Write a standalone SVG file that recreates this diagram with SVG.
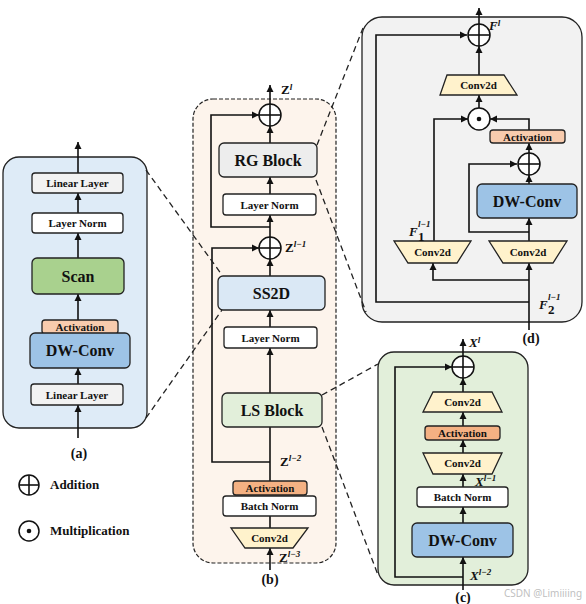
<svg xmlns="http://www.w3.org/2000/svg" width="586" height="604" viewBox="0 0 586 604">
<defs>
<marker id="ah" markerUnits="userSpaceOnUse" markerWidth="8" markerHeight="8" refX="7" refY="4" orient="auto">
<path d="M0,0.5 L7,4 L0,7.5 z" fill="#111"/>
</marker>
<style>
.t{font-family:"Liberation Serif","Times New Roman",serif;font-weight:bold;fill:#111;text-anchor:middle}
.s{font-size:11px}
.m{font-size:16px}
.lbl{font-family:"Liberation Serif","Times New Roman",serif;font-weight:bold;fill:#111;font-size:13px}
.sup{font-size:9px;font-style:italic}
.box{stroke:#222;stroke-width:1.3}
.ln{fill:none;stroke:#111;stroke-width:1.6}
.ar{fill:none;stroke:#111;stroke-width:1.6;marker-end:url(#ah)}
.dash{fill:none;stroke:#222;stroke-width:1.3;stroke-dasharray:6,4}
.op{fill:#fff;stroke:#111;stroke-width:1.5}
</style>
</defs>

<!-- Panels -->
<g id="panel-a">
<rect x="3" y="157" width="144" height="271" rx="16" fill="#deebf7" stroke="#222" stroke-width="1.3"/>
</g>
<g id="panel-b">
<rect x="193" y="99" width="143" height="464" rx="20" fill="#fdf4ec" stroke="#222" stroke-width="1.2" stroke-dasharray="4,2"/>
</g>
<g id="panel-d">
<rect x="362" y="17" width="220" height="305" rx="20" fill="#f2f2f2" stroke="#222" stroke-width="1.3"/>
</g>
<g id="panel-c">
<rect x="378" y="352" width="150" height="233" rx="16" fill="#e2efda" stroke="#222" stroke-width="1.3"/>
</g>

<!-- Connectors -->
<g id="connectors">
<!-- panel a -->
<line class="ar" x1="78" y1="438" x2="78" y2="405"/>
<line class="ar" x1="78" y1="384" x2="78" y2="368"/>
<line class="ar" x1="78" y1="320" x2="78" y2="294"/>
<line class="ar" x1="78" y1="258" x2="78" y2="233"/>
<line class="ar" x1="78" y1="213" x2="78" y2="193"/>
<line class="ar" x1="78" y1="173" x2="78" y2="142"/>
<!-- panel b -->
<line class="ar" x1="270" y1="570" x2="270" y2="548"/>
<line class="ln" x1="270" y1="528" x2="270" y2="516"/>
<line class="ln" x1="270" y1="481" x2="270" y2="427"/>
<line class="ar" x1="270" y1="393" x2="270" y2="348"/>
<line class="ar" x1="270" y1="327" x2="270" y2="310"/>
<line class="ar" x1="270" y1="276" x2="270" y2="259"/>
<line class="ar" x1="270" y1="237" x2="270" y2="215"/>
<line class="ar" x1="270" y1="194" x2="270" y2="177"/>
<line class="ar" x1="270" y1="143" x2="270" y2="126"/>
<line class="ar" x1="270" y1="104" x2="270" y2="85"/>
<polyline class="ar" points="270,462 212,462 212,248 259,248"/>
<polyline class="ar" points="270,227 211,227 211,115 259,115"/>
<!-- panel d -->
<line class="ar" x1="529" y1="330" x2="529" y2="263"/>
<polyline class="ar" points="529,280 433,280 433,263"/>
<polyline class="ar" points="529,302 376,302 376,35 467,35"/>
<line class="ar" x1="529" y1="241" x2="529" y2="218"/>
<polyline class="ar" points="529,232 469,232 469,164 517,164"/>
<line class="ar" x1="529" y1="184" x2="529" y2="175"/>
<line class="ar" x1="529" y1="153" x2="529" y2="143"/>
<polyline class="ar" points="529,130 529,119 490,119"/>
<polyline class="ar" points="434,241 434,119 468,119"/>
<line class="ar" x1="479" y1="108" x2="479" y2="95"/>
<line class="ar" x1="479" y1="75" x2="479" y2="46"/>
<line class="ar" x1="479" y1="24" x2="479" y2="8"/>
<!-- panel c -->
<line class="ar" x1="463" y1="590" x2="463" y2="557"/>
<polyline class="ar" points="463,577 395,577 395,367 452,367"/>
<line class="ar" x1="463" y1="523" x2="463" y2="507"/>
<line class="ar" x1="463" y1="487" x2="463" y2="474"/>
<line class="ar" x1="463" y1="453" x2="463" y2="440"/>
<line class="ar" x1="463" y1="426" x2="463" y2="412"/>
<line class="ar" x1="463" y1="392" x2="463" y2="378"/>
<line class="ar" x1="463" y1="356" x2="463" y2="339"/>
<!-- zoom dashed lines -->
<line class="dash" x1="146" y1="170" x2="222" y2="275"/>
<line class="dash" x1="146" y1="418" x2="222" y2="310"/>
<line class="dash" x1="317" y1="145" x2="363" y2="28"/>
<line class="dash" x1="316" y1="180" x2="366" y2="312"/>
<line class="dash" x1="322" y1="395" x2="378" y2="364"/>
<line class="dash" x1="322" y1="427" x2="378" y2="575"/>
</g>

<!-- Panel a nodes -->
<g id="a-linear-top"><rect class="box" x="32" y="173" width="91" height="20" rx="3" fill="#f2f2f2"/><text class="t s" x="77.5" y="187">Linear Layer</text></g>
<g id="a-layernorm"><rect class="box" x="32" y="213" width="91" height="20" rx="3" fill="#fff"/><text class="t s" x="77.5" y="227">Layer Norm</text></g>
<g id="a-scan"><rect class="box" x="32" y="258" width="92" height="36" rx="5" fill="#a9d18e"/><text class="t m" x="78" y="282">Scan</text></g>
<g id="a-activation"><rect class="box" x="42" y="320" width="76" height="14" rx="3" fill="#f8cbad"/><text class="t s" x="80" y="331">Activation</text></g>
<g id="a-dwconv"><rect class="box" x="30" y="333" width="100" height="35" rx="5" fill="#9dc3e6"/><text class="t m" x="80" y="356">DW-Conv</text></g>
<g id="a-linear-bottom"><rect class="box" x="31" y="384" width="92" height="21" rx="3" fill="#f2f2f2"/><text class="t s" x="77" y="398.5">Linear Layer</text></g>
<g id="a-label"><text class="t" x="79" y="458" font-size="14">(a)</text></g>

<!-- Legend -->
<g id="legend-add"><circle class="op" cx="29" cy="485" r="10"/><line class="ln" x1="19" y1="485" x2="39" y2="485" stroke-width="1.3"/><line class="ln" x1="29" y1="475" x2="29" y2="495" stroke-width="1.3"/><text class="lbl" x="50" y="489" font-size="12">Addition</text></g>
<g id="legend-mul"><circle class="op" cx="29" cy="531" r="10"/><circle cx="29" cy="531" r="2.3" fill="#111"/><text class="lbl" x="50" y="535" font-size="12">Multiplication</text></g>

<!-- Panel b nodes -->
<g id="b-add-top"><circle class="op" cx="270" cy="115" r="11"/><line class="ln" x1="259" y1="115" x2="281" y2="115" stroke-width="1.3"/><line class="ln" x1="270" y1="104" x2="270" y2="126" stroke-width="1.3"/><text class="lbl" x="281" y="94">Z<tspan class="sup" dy="-4">l</tspan></text></g>
<g id="b-rgblock"><rect class="box" x="219" y="143" width="98" height="34" rx="5" fill="#ededed"/><text class="t m" x="268" y="166">RG Block</text></g>
<g id="b-layernorm-top"><rect class="box" x="223" y="194" width="93" height="21" rx="3" fill="#fff"/><text class="t s" x="269.5" y="208.5">Layer Norm</text></g>
<g id="b-add-mid"><circle class="op" cx="270" cy="248" r="11"/><line class="ln" x1="259" y1="248" x2="281" y2="248" stroke-width="1.3"/><line class="ln" x1="270" y1="237" x2="270" y2="259" stroke-width="1.3"/><text class="lbl" x="285" y="252">Z<tspan class="sup" dy="-5">l−1</tspan></text></g>
<g id="b-ss2d"><rect class="box" x="218" y="276" width="107" height="34" rx="5" fill="#dae8f5"/><text class="t m" x="271.5" y="299">SS2D</text></g>
<g id="b-layernorm-mid"><rect class="box" x="224" y="327" width="93" height="21" rx="3" fill="#fff"/><text class="t s" x="270.5" y="341.5">Layer Norm</text></g>
<g id="b-lsblock"><rect class="box" x="222" y="393" width="100" height="34" rx="5" fill="#e2efda"/><text class="t m" x="272" y="416">LS Block</text></g>
<g id="b-zl2"><text class="lbl" x="280" y="466">Z<tspan class="sup" dy="-5">l−2</tspan></text></g>
<g id="b-activation"><rect class="box" x="233" y="481" width="74" height="14" rx="3" fill="#f4b183"/><text class="t s" x="270" y="492">Activation</text></g>
<g id="b-batchnorm"><rect class="box" x="223" y="496" width="93" height="20" rx="3" fill="#fff"/><text class="t s" x="269.5" y="510">Batch Norm</text></g>
<g id="b-conv2d"><polygon class="box" points="231,528 308,528 293,548 245,548" fill="#fff2cc"/><text class="t s" x="269.5" y="542">Conv2d</text></g>
<g id="b-zl3"><text class="lbl" x="279" y="562">Z<tspan class="sup" dy="-5">l−3</tspan></text></g>
<g id="b-label"><text class="t" x="270" y="584" font-size="14">(b)</text></g>

<!-- Panel d nodes -->
<g id="d-add-top"><circle class="op" cx="479" cy="35" r="11"/><line class="ln" x1="468" y1="35" x2="490" y2="35" stroke-width="1.3"/><line class="ln" x1="479" y1="24" x2="479" y2="46" stroke-width="1.3"/><text class="lbl" x="489" y="30" font-style="italic">F<tspan class="sup" dy="-4">l</tspan></text></g>
<g id="d-conv2d-top"><polygon class="box" points="447,75 504,75 517,95 440,95" fill="#fff2cc"/><text class="t s" x="478.5" y="89">Conv2d</text></g>
<g id="d-mul"><circle class="op" cx="479" cy="119" r="11"/><circle cx="479" cy="119" r="2.3" fill="#111"/></g>
<g id="d-activation"><rect class="box" x="490" y="130" width="75" height="13" rx="3" fill="#f8cbad"/><text class="t s" x="527.5" y="140.5">Activation</text></g>
<g id="d-add-mid"><circle class="op" cx="529" cy="164" r="11"/><line class="ln" x1="518" y1="164" x2="540" y2="164" stroke-width="1.3"/><line class="ln" x1="529" y1="153" x2="529" y2="175" stroke-width="1.3"/></g>
<g id="d-dwconv"><rect class="box" x="477" y="184" width="100" height="34" rx="5" fill="#9dc3e6"/><text class="t m" x="527" y="207">DW-Conv</text></g>
<g id="d-conv2d-left"><polygon class="box" points="394,241 471,241 457,263 408,263" fill="#fff2cc"/><text class="t s" x="432.5" y="256">Conv2d</text></g>
<g id="d-conv2d-right"><polygon class="box" points="489,241 567,241 553,263 503,263" fill="#fff2cc"/><text class="t s" x="528" y="256">Conv2d</text></g>
<g id="d-f1"><text class="lbl" x="409" y="236" font-style="italic">F</text><text class="lbl sup" x="418" y="227">l−1</text><text class="lbl" x="418" y="241" font-size="8">1</text></g>
<g id="d-f2"><text class="lbl" x="539" y="309" font-style="italic">F</text><text class="lbl sup" x="548" y="300">l−1</text><text class="lbl" x="548" y="314" font-size="8">2</text></g>
<g id="d-label"><text class="t" x="531" y="343" font-size="14">(d)</text></g>

<!-- Panel c nodes -->
<g id="c-add"><circle class="op" cx="463" cy="367" r="11"/><line class="ln" x1="452" y1="367" x2="474" y2="367" stroke-width="1.3"/><line class="ln" x1="463" y1="356" x2="463" y2="378" stroke-width="1.3"/><text class="lbl" x="469" y="347" font-style="italic">X<tspan class="sup" dy="-4">l</tspan></text></g>
<g id="c-conv2d-top"><polygon class="box" points="433,392 492,392 502,412 423,412" fill="#fff2cc"/><text class="t s" x="462.5" y="406">Conv2d</text></g>
<g id="c-activation"><rect class="box" x="425" y="426" width="75" height="14" rx="3" fill="#f4b183"/><text class="t s" x="462.5" y="437">Activation</text></g>
<g id="c-conv2d-bottom"><polygon class="box" points="423,453 502,453 492,474 433,474" fill="#fff2cc"/><text class="t s" x="462.5" y="467">Conv2d</text></g>
<g id="c-xl1"><text class="lbl" x="475" y="486" font-style="italic">X<tspan class="sup" dy="-5">l−1</tspan></text></g>
<g id="c-batchnorm"><rect class="box" x="417" y="487" width="91" height="20" rx="3" fill="#fff"/><text class="t s" x="462.5" y="501">Batch Norm</text></g>
<g id="c-dwconv"><rect class="box" x="412" y="523" width="101" height="34" rx="5" fill="#9dc3e6"/><text class="t m" x="462.5" y="546">DW-Conv</text></g>
<g id="c-xl2"><text class="lbl" x="470" y="580" font-style="italic">X<tspan class="sup" dy="-5">l−2</tspan></text></g>
<g id="c-label"><text class="t" x="463" y="602" font-size="14">(c)</text></g>

<g id="watermark"><text x="543" y="597" font-family="'Noto Sans','DejaVu Sans',sans-serif" font-size="10" fill="#bfbfbf" text-anchor="middle">CSDN @Limiiiing</text></g>
</svg>
